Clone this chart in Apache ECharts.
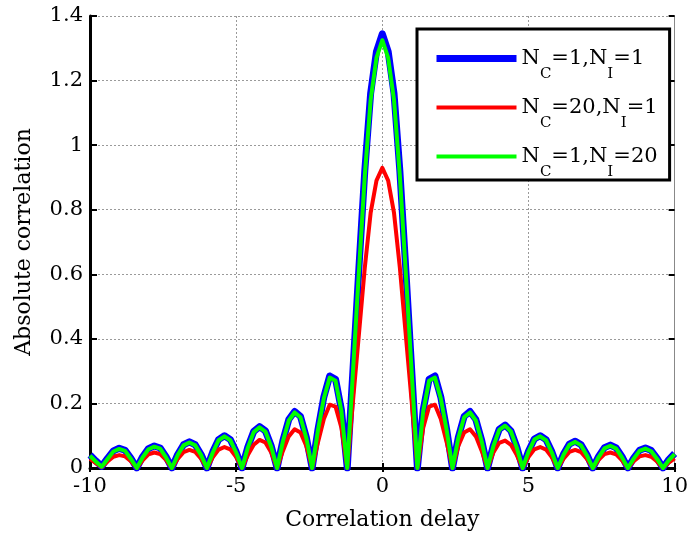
<!DOCTYPE html>
<html>
<head>
<meta charset="utf-8">
<script src="https://cdn.jsdelivr.net/npm/echarts@6/dist/echarts.min.js"></script>
<style>
html,body{margin:0;padding:0;background:#fff;}
#chart{width:691px;height:540px;}
</style>
</head>
<body>
<div id="chart"></div>
<script>
// Correlation delay samples
const delays = [-10,-9.8,-9.6,-9.4,-9.2,-9,-8.8,-8.6,-8.4,-8.2,-8,-7.8,-7.6,-7.4,-7.2,-7,-6.8,-6.6,-6.4,-6.2,-6,-5.8,-5.6,-5.4,-5.2,-5,-4.8,-4.6,-4.4,-4.2,-4,-3.8,-3.6,-3.4,-3.2,-3,-2.8,-2.6,-2.4,-2.2,-2,-1.8,-1.6,-1.4,-1.2,-1,-0.8,-0.6,-0.4,-0.2,0,0.2,0.4,0.6,0.8,1,1.2,1.4,1.6,1.8,2,2.2,2.4,2.6,2.8,3,3.2,3.4,3.6,3.8,4,4.2,4.4,4.6,4.8,5,5.2,5.4,5.6,5.8,6,6.2,6.4,6.6,6.8,7,7.2,7.4,7.6,7.8,8,8.2,8.4,8.6,8.8,9,9.2,9.4,9.6,9.8,10];

// N_C=1, N_I=1
const seriesA = [0.040,0.022,0.005,0.030,0.053,0.061,0.055,0.030,0.000,0.035,0.060,0.068,0.062,0.035,0.000,0.042,0.072,0.081,0.072,0.042,0.000,0.050,0.088,0.100,0.088,0.050,0.000,0.065,0.113,0.128,0.115,0.068,0.000,0.085,0.150,0.175,0.160,0.095,0.000,0.120,0.220,0.285,0.275,0.180,0.000,0.310,0.620,0.920,1.160,1.290,
  1.345,
  1.290,1.160,0.920,0.620,0.310,0.000,0.180,0.275,0.285,0.220,0.120,0.000,0.095,0.160,0.175,0.150,0.085,0.000,0.070,0.120,0.133,0.115,0.065,0.000,0.052,0.090,0.100,0.088,0.050,0.000,0.043,0.074,0.083,0.072,0.041,0.000,0.036,0.063,0.071,0.062,0.035,0.000,0.031,0.055,0.062,0.054,0.030,0.000,0.026,0.045];

// N_C=20, N_I=1
const seriesB = [0.028,0.015,0.003,0.020,0.035,0.040,0.036,0.021,0.000,0.024,0.042,0.048,0.043,0.025,0.000,0.028,0.049,0.056,0.050,0.029,0.000,0.033,0.057,0.065,0.058,0.034,0.000,0.040,0.072,0.087,0.079,0.048,0.000,0.053,0.098,0.120,0.110,0.068,0.000,0.080,0.152,0.196,0.190,0.125,0.000,0.210,0.415,0.620,0.790,0.890,
  0.930,
  0.890,0.790,0.620,0.415,0.210,0.000,0.125,0.190,0.196,0.152,0.080,0.000,0.068,0.110,0.120,0.098,0.053,0.000,0.048,0.078,0.085,0.072,0.040,0.000,0.034,0.058,0.065,0.057,0.033,0.000,0.029,0.050,0.056,0.049,0.028,0.000,0.025,0.043,0.048,0.042,0.024,0.000,0.021,0.036,0.040,0.035,0.020,0.000,0.017,0.030];

// N_C=1, N_I=20
const seriesC = [0.038,0.020,0.004,0.028,0.051,0.059,0.053,0.028,0.000,0.033,0.058,0.066,0.060,0.033,0.000,0.040,0.070,0.079,0.070,0.040,0.000,0.048,0.086,0.098,0.086,0.048,0.000,0.063,0.111,0.126,0.113,0.066,0.000,0.083,0.147,0.172,0.157,0.093,0.000,0.118,0.216,0.280,0.270,0.177,0.000,0.305,0.610,0.905,1.140,1.270,
  1.325,
  1.270,1.140,0.905,0.610,0.305,0.000,0.177,0.270,0.280,0.216,0.118,0.000,0.093,0.157,0.172,0.147,0.083,0.000,0.068,0.118,0.131,0.113,0.063,0.000,0.050,0.088,0.098,0.086,0.048,0.000,0.041,0.072,0.081,0.070,0.039,0.000,0.034,0.061,0.069,0.060,0.033,0.000,0.029,0.053,0.060,0.052,0.028,0.000,0.024,0.043];

const seriesNames = ['N_C=1,N_I=1', 'N_C=20,N_I=1', 'N_C=1,N_I=20'];
const legendRich = ['{n|N}{s|C}{n|=1,N}{s|I}{n|=1}', '{n|N}{s|C}{n|=20,N}{s|I}{n|=1}', '{n|N}{s|C}{n|=1,N}{s|I}{n|=20}'];
const xTicks = {min: -10, max: 10, interval: 5};
const yTicks = {min: 0, max: 1.4, interval: 0.2};

const FONT = 'DejaVu Serif';
const colors = ['#0000ff', '#ff0000', '#00ff00'];
const widths = [7, 4, 4];
function zip(xs, ys) { return xs.map((x, i) => [x, ys[i]]); }

const chart = echarts.init(document.getElementById('chart'), null, {renderer: 'canvas'});
const gridLine = {show: true, lineStyle: {color: '#9a9a9a', width: 1, type: [2, 2]}};

const option = {
  animation: false,
  backgroundColor: '#ffffff',
  grid: {left: 90, right: 13, top: 16, bottom: 72, containLabel: false},
  legend: {
    orient: 'vertical',
    left: 417, top: 29,
    padding: [19, 12, 0, 16],
    itemWidth: 80, itemHeight: 14, itemGap: 15, itemTextGap: 9,
    borderColor: '#000', borderWidth: 3, backgroundColor: '#fff',
    itemStyle: {opacity: 0},
    data: seriesNames.map((n, i) => ({name: n, lineStyle: {width: widths[i], color: colors[i]}})),
    formatter: function (name) { return legendRich[seriesNames.indexOf(name)]; },
    textStyle: {
      color: '#000',
      rich: {
        n: {fontFamily: FONT, fontSize: 21, lineHeight: 30, verticalAlign: 'middle', color: '#000'},
        s: {fontFamily: FONT, fontSize: 15, lineHeight: 47, verticalAlign: 'bottom', color: '#000'}
      }
    }
  },
  xAxis: [{
    type: 'value', min: xTicks.min, max: xTicks.max, interval: xTicks.interval,
    name: 'Correlation delay', nameLocation: 'middle', nameGap: 41,
    nameTextStyle: {fontFamily: FONT, fontSize: 22, color: '#000'},
    axisLine: {show: true, onZero: false, lineStyle: {color: '#000', width: 3}},
    axisTick: {show: true, inside: true, length: 5, lineStyle: {color: '#000', width: 2}},
    axisLabel: {fontFamily: FONT, fontSize: 21, color: '#000', margin: 8},
    splitLine: gridLine
  }, {
    type: 'value', position: 'top', min: xTicks.min, max: xTicks.max, interval: xTicks.interval,
    axisLine: {show: false},
    axisTick: {show: true, inside: true, length: 4, lineStyle: {color: '#000', width: 2}},
    axisLabel: {show: false}, splitLine: {show: false}
  }],
  yAxis: [{
    type: 'value', min: yTicks.min, max: yTicks.max, interval: yTicks.interval,
    name: 'Absolute correlation', nameLocation: 'middle', nameGap: 55,
    nameTextStyle: {fontFamily: FONT, fontSize: 22, color: '#000'},
    axisLine: {show: true, onZero: false, lineStyle: {color: '#000', width: 3}},
    axisTick: {show: true, inside: true, length: 7, lineStyle: {color: '#000', width: 2}},
    axisLabel: {fontFamily: FONT, fontSize: 21, color: '#000', margin: 7},
    splitLine: gridLine
  }, {
    type: 'value', position: 'right', min: yTicks.min, max: yTicks.max, interval: yTicks.interval,
    axisLine: {show: true, onZero: false, lineStyle: {color: '#888', width: 1}},
    axisTick: {show: true, inside: true, length: 6, lineStyle: {color: '#000', width: 2}},
    axisLabel: {show: false}, splitLine: {show: false}
  }],
  series: [
    {name: seriesNames[0], type: 'line', data: zip(delays, seriesA), symbol: 'none', smooth: false,
     lineStyle: {color: colors[0], width: widths[0], join: 'round'}, itemStyle: {color: colors[0]}, z: 2},
    {name: seriesNames[1], type: 'line', data: zip(delays, seriesB), symbol: 'none', smooth: false,
     lineStyle: {color: colors[1], width: widths[1], join: 'round'}, itemStyle: {color: colors[1]}, z: 3},
    {name: seriesNames[2], type: 'line', data: zip(delays, seriesC), symbol: 'none', smooth: false,
     lineStyle: {color: colors[2], width: widths[2], join: 'round'}, itemStyle: {color: colors[2]}, z: 4}
  ]
};
chart.setOption(option);
</script>
</body>
</html>
